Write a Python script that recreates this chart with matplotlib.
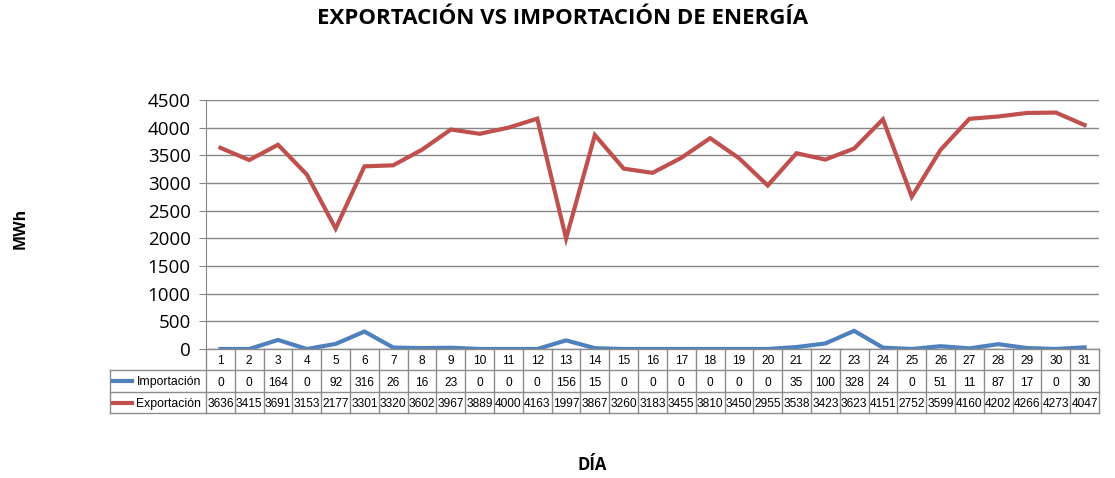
import matplotlib
matplotlib.use("Agg")
import matplotlib.pyplot as plt
from matplotlib.lines import Line2D

dias = list(range(1, 32))
importacion = [0, 0, 164, 0, 92, 316, 26, 16, 23, 0, 0, 0, 156, 15, 0, 0,
               0, 0, 0, 0, 35, 100, 328, 24, 0, 51, 11, 87, 17, 0, 30]
exportacion = [3636, 3415, 3691, 3153, 2177, 3301, 3320, 3602, 3967, 3889,
               4000, 4163, 1997, 3867, 3260, 3183, 3455, 3810, 3450, 2955,
               3538, 3423, 3623, 4151, 2752, 3599, 4160, 4202, 4266, 4273, 4047]
series = [("Importación", importacion, "#4F81BD"),
          ("Exportación", exportacion, "#C0504D")]
yticks = list(range(0, 4501, 500))

W, H = 1115, 478
plt.rcParams["font.family"] = ["Open Sans", "DejaVu Sans"]
fig = plt.figure(figsize=(W / 100, H / 100), dpi=100)


def fx(px):
    return px / W


def fy(py):
    return 1 - py / H


# plot area in pixels
L, R, T, B = 206, 1099, 100, 349
ax = fig.add_axes([fx(L), fy(B), fx(R) - fx(L), fy(T) - fy(B)])
n = len(dias)
for name, vals, c in series:
    ax.plot(range(n), vals, color=c, lw=3.0, solid_joinstyle="miter")
ax.set_xlim(-0.5, n - 0.5)
ax.set_ylim(0, 4500)
ax.set_yticks(yticks)
ax.set_yticklabels([str(v) for v in yticks], fontsize=13.5)
ax.set_xticks([])
ax.grid(axis="y", color="#868686", lw=1)
ax.set_axisbelow(True)
for s in ["top", "right", "bottom"]:
    ax.spines[s].set_visible(False)
ax.spines["left"].set_color("#868686")
ax.tick_params(axis="y", length=5, color="#868686", pad=6)

# data table below the axes
gc = "#8c8c8c"
colw = (R - L) / n
rows = [349, 370, 392, 413]
LEG = 110


def hline(x0, x1, y):
    fig.add_artist(Line2D([fx(x0), fx(x1)], [fy(y), fy(y)], color=gc, lw=1))


def vline(x, y0, y1):
    fig.add_artist(Line2D([fx(x), fx(x)], [fy(y0), fy(y1)], color=gc, lw=1))


hline(L, R, rows[0])
for y in rows[1:]:
    hline(LEG, R, y)
for i in range(n + 1):
    vline(L + i * colw, rows[0], rows[3])
vline(LEG, rows[1], rows[3])

tk = dict(ha="center", va="center_baseline", fontsize=8.6, family="Liberation Sans")
for i, d in enumerate(dias):
    cx = fx(L + (i + 0.5) * colw)
    fig.text(cx, fy((rows[0] + rows[1]) / 2), str(d), **tk)
    for r, (name, vals, c) in enumerate(series):
        fig.text(cx, fy((rows[r + 1] + rows[r + 2]) / 2), str(vals[i]), **tk)

for r, (name, vals, c) in enumerate(series):
    yc = (rows[r + 1] + rows[r + 2]) / 2
    fig.add_artist(Line2D([fx(113), fx(132)], [fy(yc), fy(yc)], color=c, lw=3.0))
    fig.text(fx(201), fy(yc), name, ha="right", va="center_baseline",
             fontsize=8.8, family="Liberation Sans")

fig.text(fx(563), fy(18), "EXPORTACIÓN VS IMPORTACIÓN DE ENERGÍA",
         ha="center", va="center", fontsize=16, fontweight="bold")
fig.text(fx(21), fy(228), "MWh", ha="center", va="center", rotation=90,
         fontsize=11.5, fontweight="bold")
fig.text(fx(592), fy(465), "DÍA", ha="center", va="center",
         fontsize=12, fontweight="bold")

fig.savefig("out.png", dpi=100)
